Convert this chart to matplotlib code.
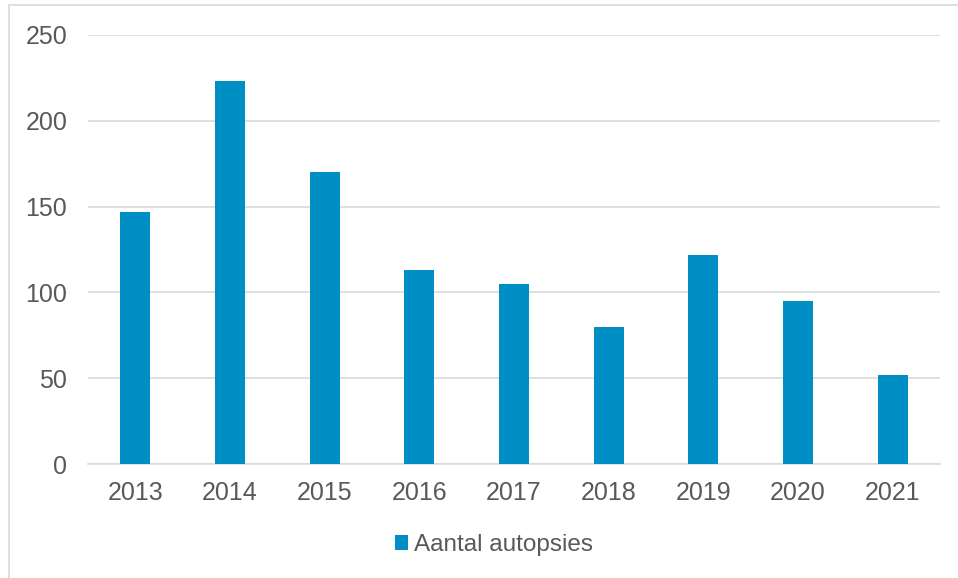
import matplotlib.pyplot as plt
from matplotlib.patches import Rectangle

# data
years = ['2013', '2014', '2015', '2016', '2017', '2018', '2019', '2020', '2021']
autopsies = [147, 223, 170, 113, 105, 80, 122, 95, 52]

bar_color = '#008FC4'
grid_color = '#D9D9D9'
text_color = '#595959'

plt.rcParams['font.family'] = ['Liberation Sans', 'DejaVu Sans']

fig = plt.figure(figsize=(9.58, 5.78), dpi=100)
ax = fig.add_axes([88 / 958, 1 - 464 / 578, 852 / 958, 429 / 578])

ax.bar(years, autopsies, width=0.315, color=bar_color, label='Aantal autopsies', zorder=3)

# axes styling
ax.set_ylim(0, 250)
ax.set_yticks(range(0, 251, 50))
ax.set_xlim(-0.5, len(years) - 0.5)
ax.yaxis.grid(True, color=grid_color, linewidth=1.2, zorder=0)
for side in ['top', 'right', 'left']:
    ax.spines[side].set_visible(False)
ax.spines['bottom'].set_color(grid_color)
ax.spines['bottom'].set_linewidth(1.2)
ax.tick_params(axis='both', length=0, labelsize=18, colors=text_color)
ax.tick_params(axis='y', pad=15)
ax.tick_params(axis='x', pad=12)

# legend below the plot
fig.legend(loc='center', bbox_to_anchor=(494 / 958, 1 - 545 / 578), frameon=False,
           fontsize=17.5, labelcolor=text_color, handlelength=0.55, handleheight=0.55,
           handletextpad=0.25)

# frame around the chart area
fig.patches.append(Rectangle((8.5 / 958, -0.1), 2, 1 + 0.1 - 5.5 / 578,
                             transform=fig.transFigure, fill=False,
                             edgecolor=grid_color, linewidth=1.2))

fig.savefig('out.png', dpi=100)
